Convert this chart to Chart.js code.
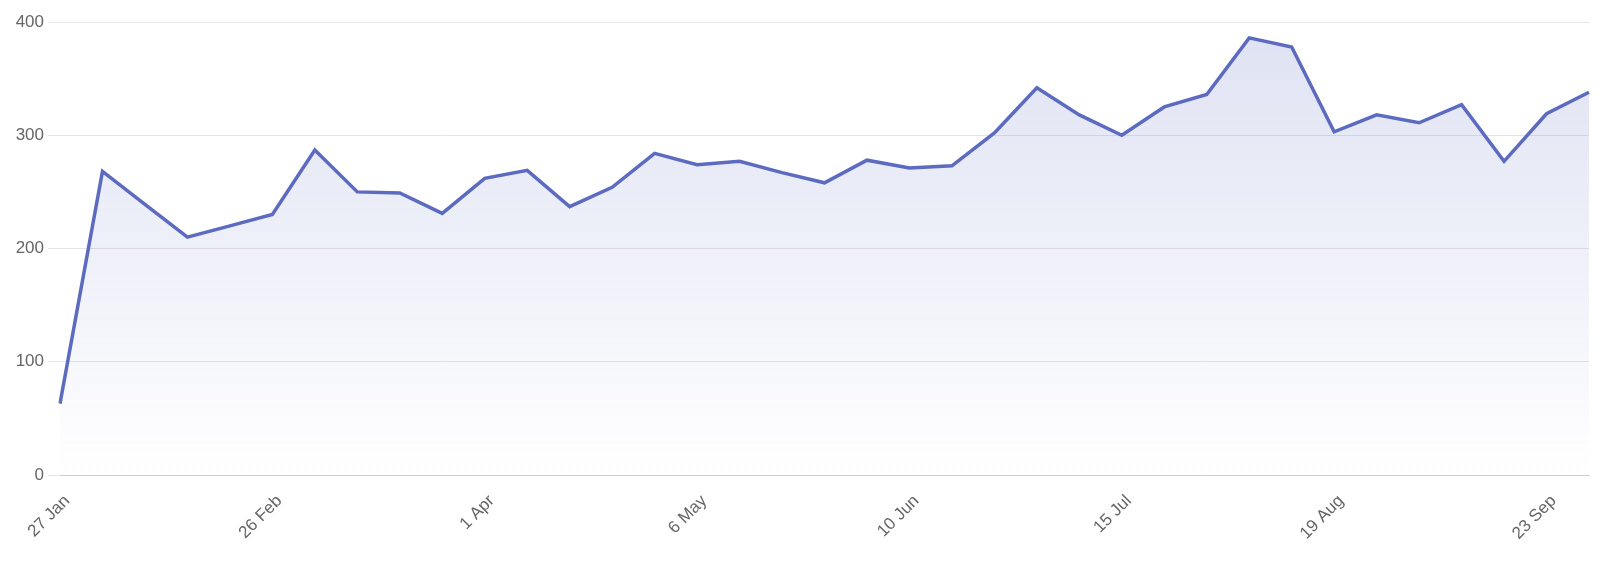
<!DOCTYPE html>
<html>
<head>
<meta charset="utf-8">
<script src="https://cdn.jsdelivr.net/npm/chart.js@4/dist/chart.umd.min.js"></script>
<style>
  html, body { margin: 0; padding: 0; background: #ffffff; }
  #wrap { width: 1600px; height: 574px; }
</style>
</head>
<body>
<div id="wrap"><canvas id="c" width="1600" height="574"></canvas></div>
<script>
const categories = [
  '27 Jan', '29 Jan', '5 Feb', '12 Feb', '19 Feb', '26 Feb', '4 Mar', '11 Mar', '18 Mar', '25 Mar',
  '1 Apr', '8 Apr', '15 Apr', '22 Apr', '29 Apr', '6 May', '13 May', '20 May', '27 May', '3 Jun',
  '10 Jun', '17 Jun', '24 Jun', '1 Jul', '8 Jul', '15 Jul', '22 Jul', '29 Jul', '5 Aug', '12 Aug',
  '19 Aug', '26 Aug', '2 Sep', '9 Sep', '16 Sep', '23 Sep', '30 Sep'
];
const seriesValues = [
  63, 268, 239, 210, 220, 230, 287, 250, 249, 231,
  262, 269, 237, 254, 284, 274, 277, 267, 258, 278,
  271, 273, 302, 342, 318, 300, 325, 336, 386, 378,
  303, 318, 311, 327, 277, 319, 338
];
const yTicks = [0, 100, 200, 300, 400];
const labelEvery = 5;

const lineColor = '#5c6bc0';
const fontSpec = { family: "'Helvetica Neue', Helvetica, Arial, 'Liberation Sans', sans-serif", size: 17 };

function areaGradient(context) {
  const chart = context.chart;
  const area = chart.chartArea;
  if (!area) return 'rgba(92,107,192,0.1)';
  const g = chart.ctx.createLinearGradient(0, area.top, 0, area.bottom);
  g.addColorStop(0, 'rgba(92,107,192,0.2)');
  g.addColorStop(1, 'rgba(92,107,192,0)');
  return g;
}

new Chart(document.getElementById('c'), {
  type: 'line',
  data: {
    labels: categories,
    datasets: [{
      data: seriesValues,
      borderColor: lineColor,
      borderWidth: 3.5,
      backgroundColor: areaGradient,
      fill: 'origin',
      tension: 0,
      pointRadius: 0,
      pointHoverRadius: 0
    }]
  },
  options: {
    responsive: false,
    animation: false,
    events: [],
    layout: { padding: { top: 22, right: 11, left: 0, bottom: 0 } },
    plugins: { legend: { display: false }, tooltip: { enabled: false } },
    scales: {
      x: {
        grid: { display: false, drawTicks: true, tickLength: 8 },
        border: { display: true, color: 'rgba(0,0,0,0.1)' },
        ticks: {
          color: '#666',
          font: fontSpec,
          autoSkip: false,
          minRotation: 45,
          maxRotation: 45,
          padding: 8,
          labelOffset: 7,
          callback: function (v, i) { return i % labelEvery === 0 ? categories[i] : ''; }
        },
        afterFit: function (s) { s.height = 99; s.paddingLeft = 0; s.paddingRight = 0; }
      },
      y: {
        min: 0,
        max: 400,
        afterBuildTicks: function (s) { s.ticks = yTicks.map(v => ({ value: v })); },
        grid: { color: 'rgba(0,0,0,0.1)', tickLength: 12 },
        border: { display: false },
        ticks: { color: '#666', font: fontSpec, padding: 4 },
        afterFit: function (s) { s.width = 60; }
      }
    }
  }
});
</script>
</body>
</html>
